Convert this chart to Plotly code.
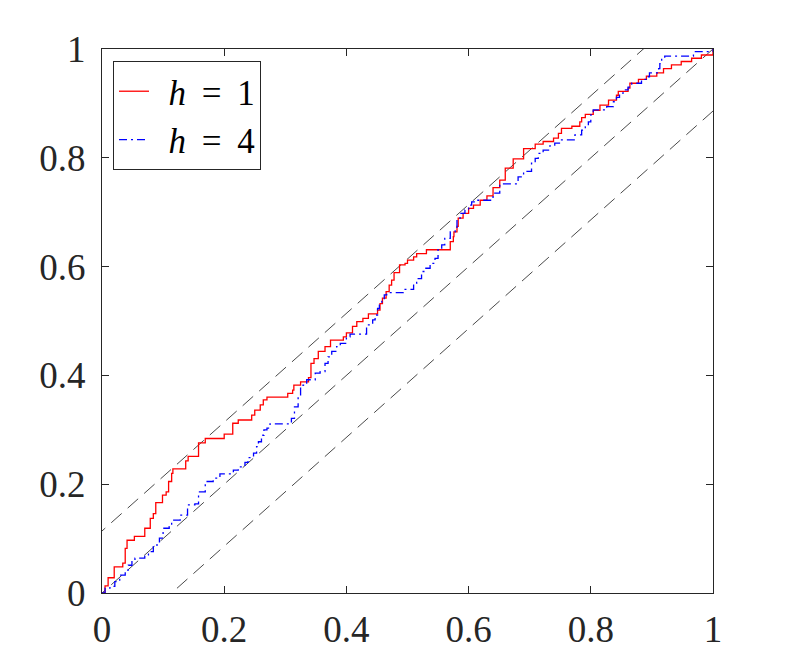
import plotly.graph_objects as go

# h = 1 (red, solid) step curve corners
h1_x = [0.0, 0.005, 0.010, 0.016, 0.020, 0.032, 0.034, 0.038, 0.041, 0.051, 0.053, 0.067, 0.070, 0.079, 0.084,
        0.088, 0.097, 0.099, 0.105, 0.109, 0.114, 0.116, 0.136, 0.137, 0.141, 0.156, 0.158, 0.169, 0.199,
        0.200, 0.212, 0.214, 0.223, 0.242, 0.245, 0.250, 0.259, 0.264, 0.270, 0.302, 0.304, 0.312, 0.314,
        0.325, 0.338, 0.342, 0.347, 0.354, 0.365, 0.374, 0.392, 0.395, 0.400, 0.410, 0.417, 0.427,
        0.436, 0.451, 0.455, 0.459, 0.465, 0.470, 0.474, 0.478, 0.487, 0.496, 0.500, 0.510, 0.515, 0.531,
        0.570, 0.575, 0.576, 0.581, 0.583, 0.591, 0.600, 0.608, 0.619, 0.630, 0.640, 0.651, 0.660, 0.673,
        0.690, 0.709, 0.722, 0.739, 0.747, 0.752, 0.769, 0.782, 0.785, 0.791, 0.804, 0.815, 0.829, 0.842,
        0.845, 0.861, 0.864, 0.878, 0.891, 0.908, 0.919, 0.932, 0.948, 0.965, 0.981, 1.0]
h1_y = [0.0, 0.013, 0.028, 0.028, 0.048, 0.048, 0.055, 0.082, 0.097, 0.097, 0.104, 0.104, 0.119, 0.137, 0.146,
        0.166, 0.166, 0.180, 0.186, 0.205, 0.220, 0.228, 0.228, 0.243, 0.251, 0.251, 0.276, 0.284, 0.284,
        0.292, 0.292, 0.312, 0.318, 0.318, 0.327, 0.336, 0.346, 0.355, 0.360, 0.360, 0.367, 0.373, 0.382,
        0.388, 0.396, 0.422, 0.431, 0.444, 0.453, 0.465, 0.465, 0.471, 0.478, 0.490, 0.499, 0.505,
        0.513, 0.520, 0.532, 0.542, 0.554, 0.566, 0.575, 0.589, 0.603, 0.606, 0.612, 0.618, 0.624, 0.631,
        0.646, 0.655, 0.664, 0.674, 0.689, 0.698, 0.707, 0.713, 0.722, 0.730, 0.745, 0.759, 0.781, 0.798,
        0.817, 0.825, 0.830, 0.836, 0.845, 0.854, 0.858, 0.866, 0.874, 0.880, 0.887, 0.897, 0.906, 0.915,
        0.922, 0.928, 0.937, 0.944, 0.950, 0.956, 0.964, 0.971, 0.977, 0.983, 0.989, 1.0]

# h = 4 (blue, dash-dot) step curve corners
h4_x = [0.0, 0.005, 0.013, 0.021, 0.029, 0.038, 0.043, 0.049, 0.054, 0.070, 0.076, 0.084, 0.090, 0.094,
        0.100, 0.110, 0.114, 0.128, 0.140, 0.152, 0.158, 0.169, 0.182, 0.193, 0.215, 0.223, 0.234, 0.239,
        0.248, 0.253, 0.256, 0.261, 0.265, 0.270, 0.275, 0.310, 0.315, 0.321, 0.325, 0.329, 0.335, 0.349,
        0.357, 0.365, 0.370, 0.376, 0.384, 0.390, 0.400, 0.406, 0.433, 0.443, 0.447, 0.451, 0.454, 0.458,
        0.462, 0.466, 0.493, 0.510, 0.515, 0.523, 0.529, 0.537, 0.545, 0.550, 0.556, 0.561, 0.570, 0.578,
        0.581, 0.586, 0.594, 0.600, 0.605, 0.612, 0.640, 0.651, 0.681, 0.690, 0.703, 0.709, 0.714, 0.722,
        0.733, 0.741, 0.750, 0.774, 0.785, 0.791, 0.796, 0.800, 0.804, 0.826, 0.837, 0.842, 0.847, 0.853,
        0.861, 0.867, 0.883, 0.891, 0.896, 0.911, 0.913, 0.916, 0.921, 0.968, 1.0]
h4_y = [0.0, 0.009, 0.012, 0.021, 0.033, 0.042, 0.051, 0.062, 0.064, 0.070, 0.076, 0.085, 0.091, 0.101,
        0.119, 0.122, 0.134, 0.143, 0.162, 0.164, 0.186, 0.205, 0.211, 0.219, 0.226, 0.232, 0.240, 0.249,
        0.257, 0.269, 0.278, 0.290, 0.300, 0.303, 0.311, 0.321, 0.342, 0.361, 0.378, 0.382, 0.392, 0.404,
        0.407, 0.422, 0.434, 0.444, 0.453, 0.459, 0.471, 0.476, 0.493, 0.502, 0.511, 0.523, 0.533, 0.539,
        0.548, 0.552, 0.558, 0.569, 0.578, 0.591, 0.597, 0.606, 0.615, 0.631, 0.640, 0.652, 0.664, 0.670,
        0.686, 0.698, 0.704, 0.713, 0.719, 0.722, 0.735, 0.752, 0.765, 0.775, 0.790, 0.799, 0.808, 0.814,
        0.822, 0.827, 0.833, 0.842, 0.851, 0.857, 0.866, 0.879, 0.888, 0.894, 0.903, 0.911, 0.919, 0.925,
        0.930, 0.937, 0.944, 0.949, 0.956, 0.964, 0.973, 0.983, 0.987, 0.995, 1.0]

# reference diagonal and band offsets
ref_x = [-0.2, 1.2]
band_offsets = [0.114, 0.0, -0.114]

tick_vals = [0, 0.2, 0.4, 0.6, 0.8, 1]
tick_text = ["0", "0.2", "0.4", "0.6", "0.8", "1"]

series_names = ["\u2005\u2006<i>h</i>\u2009 = \u20091", "\u2005\u2006<i>h</i>\u2009 = \u20094"]

FONT = "Liberation Serif"

fig = go.Figure()
for off in band_offsets:
    fig.add_trace(go.Scatter(
        x=ref_x, y=[v + off for v in ref_x], mode="lines", showlegend=False,
        line=dict(color="#1a1a1a", width=0.8, dash="14px,8px"), hoverinfo="skip"))

fig.add_trace(go.Scatter(x=h1_x, y=h1_y, mode="lines", line_shape="hv",
                         name=series_names[0], line=dict(color="#ff0000", width=1.3)))
fig.add_trace(go.Scatter(x=h4_x, y=h4_y, mode="lines", line_shape="hv",
                         name=series_names[1],
                         line=dict(color="#0000ff", width=1.3, dash="8px,4px,2px,4px")))

axis_common = dict(
    range=[0, 1], tickvals=tick_vals, ticktext=tick_text, ticks="inside", ticklen=7,
    tickcolor="#262626", showline=True, linecolor="#262626", linewidth=1, mirror="ticks",
    showgrid=False, zeroline=False, tickfont=dict(family=FONT, size=37, color="#262626"),
)

fig.update_layout(
    width=789, height=667,
    margin=dict(l=94, r=84, t=41, b=82),
    paper_bgcolor="white", plot_bgcolor="white",
    xaxis=dict(**axis_common, ticklabelstandoff=4),
    yaxis=dict(**axis_common, ticklabelstandoff=8),
    font=dict(family=FONT, size=37, color="#262626"),
    legend=dict(x=0.018, y=0.978, xanchor="left", yanchor="top",
                bgcolor="white", bordercolor="#262626", borderwidth=1,
                font=dict(family=FONT, size=35, color="black"),
                tracegroupgap=0, itemwidth=30),
)

fig.write_html("out.html")
